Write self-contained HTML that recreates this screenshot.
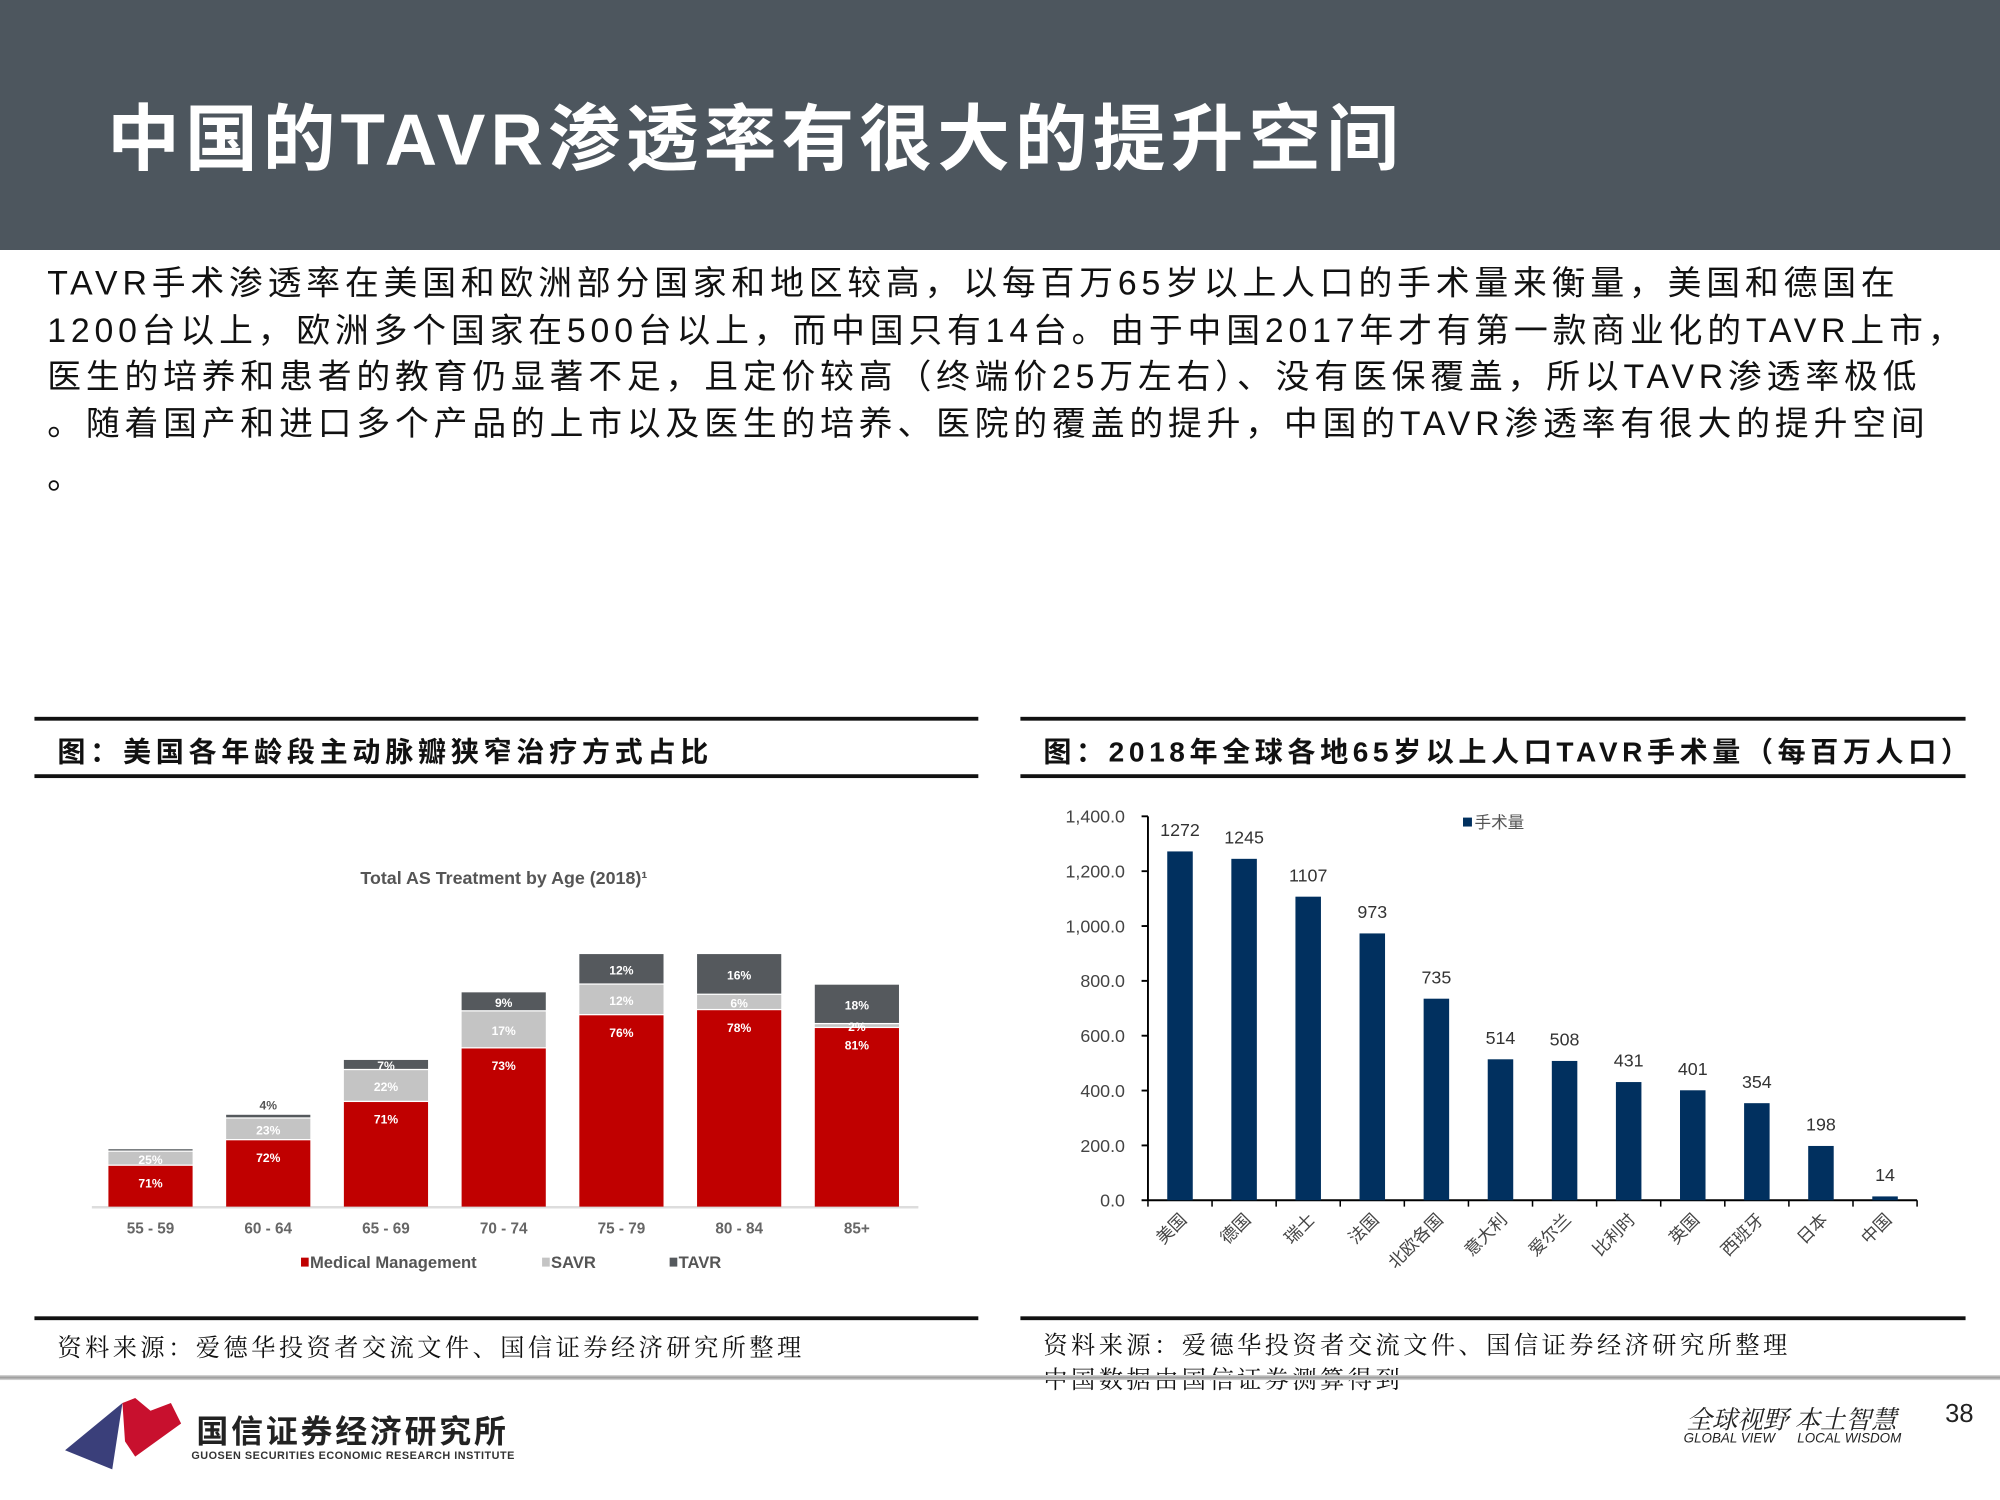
<!DOCTYPE html>
<html><head><meta charset="utf-8">
<style>
html,body{margin:0;padding:0;width:2000px;height:1500px;overflow:hidden;background:#fff;}
#wrap{position:absolute;left:0;top:0;width:1568px;height:1176px;transform:scale(1.27551);transform-origin:0 0;font-family:"Liberation Sans","Noto Sans CJK SC",sans-serif;}
.abs{position:absolute;}
.rule{position:absolute;height:3px;background:#111;}
.serif{font-family:"Liberation Serif","Noto Serif CJK SC",serif;}
</style></head>
<body>
<div id="wrap">
  <div class="abs" style="left:0;top:0;width:1568px;height:196px;background:#4d565e;"></div>
  <div class="abs" style="left:84px;top:64px;color:#fff;font-size:57px;font-weight:bold;white-space:nowrap;letter-spacing:4px;">中国的TAVR渗透率有很大的提升空间</div>
  <div class="abs" style="left:37px;top:204px;width:1520px;color:#111;font-size:26.5px;line-height:36.5px;letter-spacing:3.8px;">
    <div style="white-space:nowrap">TAVR手术渗透率在美国和欧洲部分国家和地区较高，以每百万65岁以上人口的手术量来衡量，美国和德国在</div>
    <div style="white-space:nowrap">1200台以上，欧洲多个国家在500台以上，而中国只有14台。由于中国2017年才有第一款商业化的TAVR上市，</div>
    <div style="white-space:nowrap">医生的培养和患者的教育仍显著不足，且定价较高（终端价25万左右）、没有医保覆盖，所以TAVR渗透率极低</div>
    <div style="white-space:nowrap">。随着国产和进口多个产品的上市以及医生的培养、医院的覆盖的提升，中国的TAVR渗透率有很大的提升空间</div>
    <div style="margin-top:6px">。</div>
  </div>

  <!-- left panel -->
  <div class="rule" style="left:27px;top:562px;width:740px;"></div>
  <div class="rule" style="left:27px;top:607px;width:740px;"></div>
  <div class="abs" style="left:45px;top:572px;font-size:22px;font-weight:bold;color:#111;white-space:nowrap;letter-spacing:3.7px;">图：美国各年龄段主动脉瓣狭窄治疗方式占比</div>
  <div class="rule" style="left:27px;top:1032px;width:740px;"></div>
  <div class="abs serif" style="left:45px;top:1042px;font-size:19px;color:#111;white-space:nowrap;letter-spacing:2.7px;">资料来源：爱德华投资者交流文件、国信证券经济研究所整理</div>

  <!-- right panel -->
  <div class="rule" style="left:800px;top:562px;width:741px;"></div>
  <div class="rule" style="left:800px;top:607px;width:741px;"></div>
  <div class="abs" style="left:818px;top:572px;font-size:22px;font-weight:bold;color:#111;white-space:nowrap;letter-spacing:3.6px;">图：2018年全球各地65岁以上人口TAVR手术量（每百万人口）</div>
  <div class="rule" style="left:800px;top:1032px;width:741px;"></div>
  <div class="abs serif" style="left:818px;top:1042px;font-size:19px;color:#111;line-height:27px;white-space:nowrap;letter-spacing:2.7px;">资料来源：爱德华投资者交流文件、国信证券经济研究所整理<br>中国数据由国信证券测算得到</div>

  <div class="abs" style="left:0;top:1078px;width:1568px;height:4px;background:linear-gradient(#ddd,#999,#ddd);"></div>

  <svg class="abs" style="left:46px;top:1092px;" width="105" height="64">
    <polygon points="5,45 50,8 42,60" fill="#3a3f7a"/>
    <polygon points="50,8 60,4 72,14 88,8 96,24 60,50 52,38" fill="#c8102e"/>
  </svg>
  <div class="abs" style="left:154px;top:1103px;font-size:25px;font-weight:bold;color:#222;white-space:nowrap;letter-spacing:2.2px;">国信证券经济研究所</div>
  <div class="abs" style="left:150px;top:1136px;font-size:8.5px;font-weight:bold;color:#333;white-space:nowrap;letter-spacing:0.4px;">GUOSEN SECURITIES ECONOMIC RESEARCH INSTITUTE</div>
  <div class="abs serif" style="left:1322px;top:1097px;font-size:20px;font-style:italic;color:#222;white-space:nowrap;">全球视野 本土智慧</div>
  <div class="abs" style="left:1320px;top:1122px;font-size:10.5px;font-style:italic;color:#222;white-space:nowrap;">GLOBAL VIEW &nbsp;&nbsp;&nbsp;&nbsp;&nbsp;LOCAL WISDOM</div>
  <div class="abs" style="left:1525px;top:1098px;font-size:20px;color:#222;">38</div>

  <svg id="leftChart" class="abs" style="left:0;top:620px;" width="780" height="410"></svg>
  <svg id="rightChart" class="abs" style="left:800px;top:620px;" width="741" height="410"></svg>
</div>

<script>
// ---- left chart data ----
const ageGroups = ["55 - 59","60 - 64","65 - 69","70 - 74","75 - 79","80 - 84","85+"];
const medicalVals = [32,52,82,124,150,154,140];
const savrVals = [11,17,25,29,24,12,3];
const tavrVals = [2,3,8,15,24,32,31];
const medicalPct = ["71%","72%","71%","73%","76%","78%","81%"];
const savrPct = ["25%","23%","22%","17%","12%","6%","2%"];
const tavrPct = ["","4%","7%","9%","12%","16%","18%"];

// ---- right chart data ----
const countries = ["美国","德国","瑞士","法国","北欧各国","意大利","爱尔兰","比利时","英国","西班牙","日本","中国"];
const volumes = [1272,1245,1107,973,735,514,508,431,401,354,198,14];
const yTicks = [0,200,400,600,800,1000,1200,1400];
const yTickLabels = ["0.0","200.0","400.0","600.0","800.0","1,000.0","1,200.0","1,400.0"];

const NS = "http://www.w3.org/2000/svg";
function mk(parent, tag, attrs, text){
  const e = document.createElementNS(NS, tag);
  for (const k in attrs) e.setAttribute(k, attrs[k]);
  if (text !== undefined) e.textContent = text;
  parent.appendChild(e);
  return e;
}

// left chart
(function(){
  const svg = document.getElementById('leftChart');
  const base = 326;
  const x0 = 85, step = 92.3, bw = 66;
  const yS = v => v * 1.0;
  const xPos = i => x0 + i * step;
  const t = mk(svg,'text',{x:395,y:73,'text-anchor':'middle','font-size':14,fill:'#555','font-weight':'bold'},'Total AS Treatment by Age (2018)¹');
  
  
  const ax = mk(svg,'line',{x1:72,x2:720,y1:base+0.5,y2:base+0.5,stroke:'#ddd','stroke-width':2});
  
  
  ageGroups.forEach((g,i)=>{
    const x = xPos(i);
    const hM = yS(medicalVals[i]), hS = yS(savrVals[i]), hT = yS(tavrVals[i]);
    const yM = base - hM, yS2 = yM - hS, yT = yS2 - hT;
    const r1 = mk(svg,'rect',{x:x,y:yM,width:bw,height:hM,fill:'#c00000'});
    
    
    const r2 = mk(svg,'rect',{x:x,y:yS2,width:bw,height:Math.max(hS-1,0),fill:'#c4c4c4'});
    
    
    const r3 = mk(svg,'rect',{x:x,y:yT,width:bw,height:Math.max(hT-1,0),fill:'#55595d'});
    
    
    const cx = x + bw/2;
    const l1 = mk(svg,'text',{x:cx,y:yM+17,'text-anchor':'middle','font-size':9.5,'font-weight':'bold',fill:'#fff'},medicalPct[i]);
    
    
    const l2 = mk(svg,'text',{x:cx,y:yS2+hS/2+4,'text-anchor':'middle','font-size':9.5,'font-weight':'bold',fill:'#fff'},savrPct[i]);
    
    
    if (tavrPct[i]) {
      const inside = hT >= 6;
      const l3 = mk(svg,'text',{x:cx,y:inside? yT+hT/2+4 : yT-4,'text-anchor':'middle','font-size':9.5,'font-weight':'bold',fill:inside?'#fff':'#555'},tavrPct[i]);
      
      
    }
    const c = mk(svg,'text',{x:cx,y:base+21,'text-anchor':'middle','font-size':12,'font-weight':'bold',fill:'#666'},g);
    
    
  });
  const legend = [["Medical Management","#c00000",236],["SAVR","#c4c4c4",425],["TAVR","#55595d",525]];
  legend.forEach((l,i)=>{
    const g = mk(svg,'g',{});
    
    
    mk(g,'rect',{x:l[2],y:366,width:6,height:7,fill:l[1]});
    mk(g,'text',{x:l[2]+7,y:374,'font-size':13,fill:'#555','font-weight':'bold'},l[0]);
  });
})();

// right chart
(function(){
  const svg = document.getElementById('rightChart');
  const ax0 = 100, zeroY = 321, topY = 20, yMax = 1400;
  const axW = 603, n = countries.length, band = axW / n;
  const yS = v => zeroY - (v / yMax) * (zeroY - topY);
  yTicks.forEach((v,i)=>{
    const y = yS(v);
    mk(svg,'line',{x1:ax0-5,x2:ax0,y1:y,y2:y,stroke:'#000','stroke-width':1.5});
    const t = mk(svg,'text',{x:ax0-18,y:y+5,'text-anchor':'end','font-size':14,fill:'#444'},yTickLabels[i]);
    
    
  });
  const ya = mk(svg,'line',{x1:ax0,x2:ax0,y1:topY,y2:zeroY,stroke:'#000','stroke-width':1.5});
  
  
  const xa = mk(svg,'line',{x1:ax0,x2:ax0+axW,y1:zeroY,y2:zeroY,stroke:'#000','stroke-width':1.5});
  
  
  for (let i=0;i<=n;i++){
    mk(svg,'line',{x1:ax0+i*band,x2:ax0+i*band,y1:zeroY,y2:zeroY+5,stroke:'#000','stroke-width':1.2});
  }
  countries.forEach((c,i)=>{
    const cx = ax0 + band*(i+0.5);
    const y = yS(volumes[i]);
    const b = mk(svg,'rect',{x:cx-10,y:y,width:20,height:zeroY-y,fill:'#01305f'});
    
    
    const v = mk(svg,'text',{x:cx,y:y-12,'text-anchor':'middle','font-size':14,fill:'#333'},String(volumes[i]));
    
    
    const l = mk(svg,'text',{x:cx+6,y:zeroY+16,'text-anchor':'end','font-size':13.5,fill:'#444',transform:'rotate(-45 '+(cx+6)+' '+(zeroY+16)+')'},c);
    
    
  });
  const lg = mk(svg,'g',{});
  
  
  mk(lg,'rect',{x:347,y:21,width:7,height:7,fill:'#01305f'});
  mk(lg,'text',{x:356,y:29,'font-size':13,fill:'#555'},'手术量');
})();
</script>
</body></html>
